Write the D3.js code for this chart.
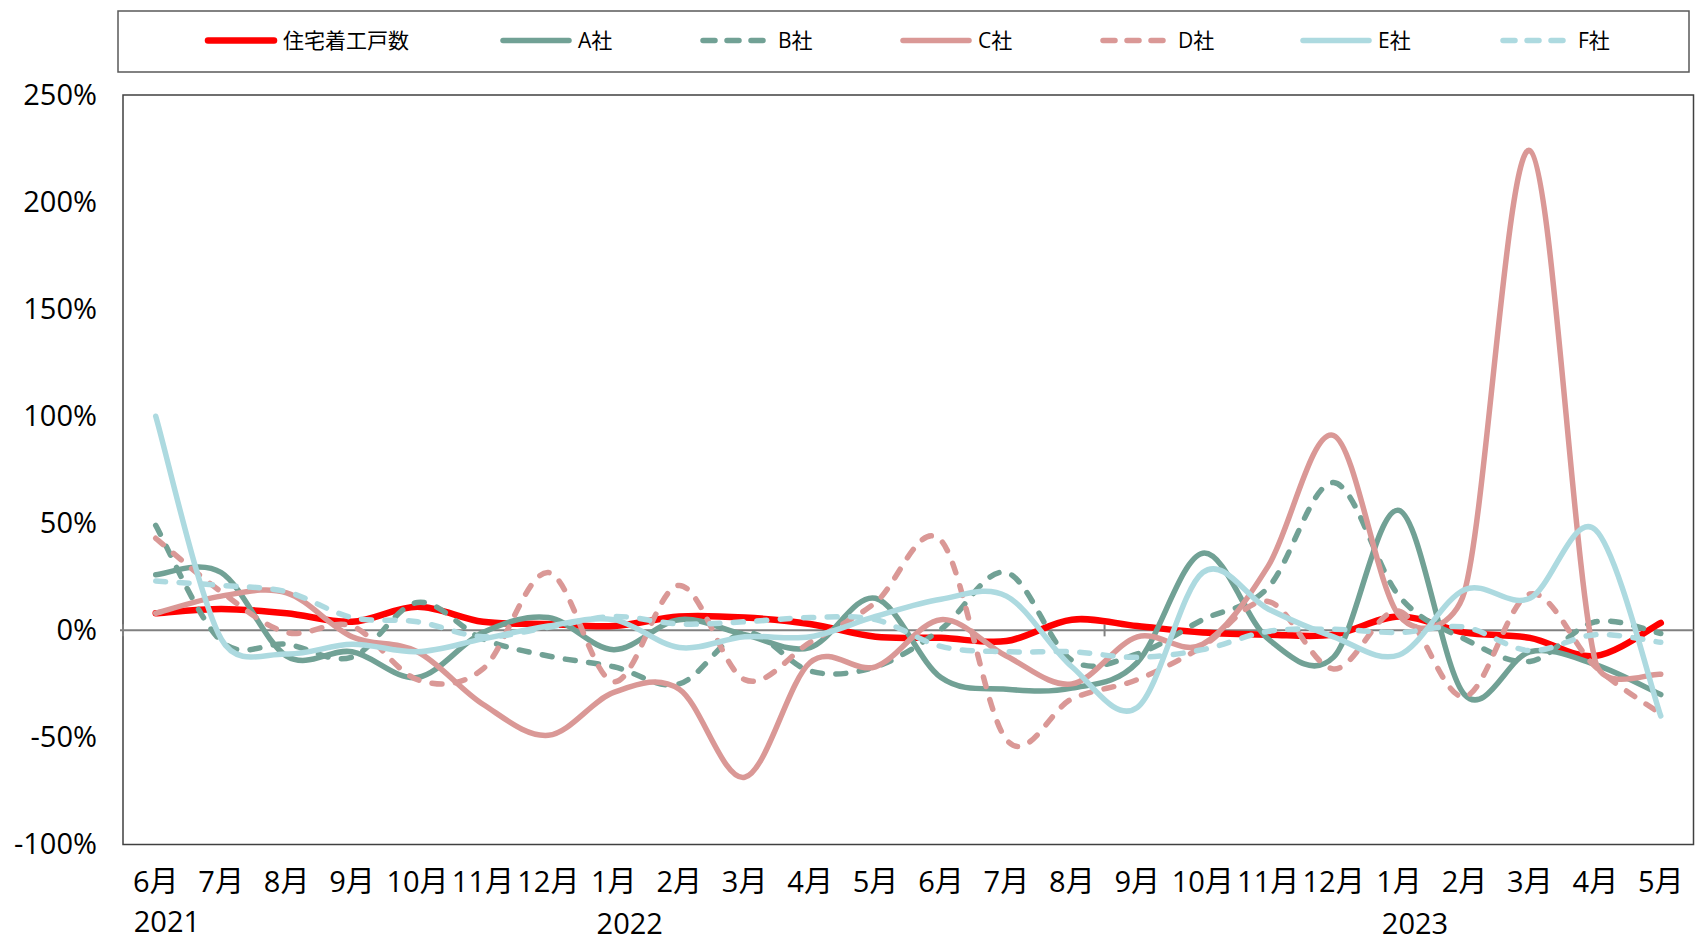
<!DOCTYPE html>
<html><head><meta charset="utf-8">
<script src="https://cdn.jsdelivr.net/npm/d3@7"></script>
<style>
html,body{margin:0;padding:0;background:#fff;}
svg{display:block;}
text{font-family:"Open Sans","Noto Sans CJK JP",sans-serif;fill:#000;}
</style></head>
<body>
<svg id="chart" width="1695" height="942"></svg>
<script>
// ---- data ----
const months = ["6月","7月","8月","9月","10月","11月","12月","1月","2月","3月","4月","5月",
                "6月","7月","8月","9月","10月","11月","12月","1月","2月","3月","4月","5月"];
const years = [{label:"2021", index:0}, {label:"2022", index:7}, {label:"2023", index:19}];
const yTicks = [-100,-50,0,50,100,150,200,250];
const seriesNames = ["住宅着工戸数","A社","B社","C社","D社","E社","F社"];
const housing = [8,10,8,4,11,4,3,2,6.5,6,3,-3,-3.5,-5,5,2,-1,-2,-2,6.5,-1,-3.5,-12,3.5];
const seriesA = [26,27,-12,-10,-22,-1,6,-9,5,-2,-8,15,-22,-27.5,-27,-15,36,-4,-12.5,56,-30,-10,-16,-30];
const seriesB = [49,-5,-6.5,-12.5,13,-4,-12,-17,-25,-1,-19,-17,0.5,27,-14,-11,5,20,69,16,-4,-14.5,4,-1.5];
const seriesC = [8,16,17.5,-3,-10,-34.5,-49,-29,-27.5,-68.6,-15,-17,5,-12,-25,-3,-6.5,30,91,7,18,224,-14.5,-20.5];
const seriesD = [43,18,-1,2,-23,-18,27,-24,21,-23,-5.6,13,42,-51,-32,-23,-7.5,13.5,-18,9,-31,17,-17,-39];
const seriesE = [100,-4,-11,-6.5,-10,-4,2,5,-8,-3,-3,6.5,14.5,16,-17,-36,27,10,-3,-11.5,19,15,47,-40];
const seriesF = [23,21,18,6,4,-3,1.4,6.5,3,4,6,5,-7.5,-10,-10,-12.6,-9,-0.5,0.5,-1,1.5,-9.5,-2,-5.6];
const seriesValues = [housing, seriesA, seriesB, seriesC, seriesD, seriesE, seriesF];

// ---- styles ----
const styles = [
  {color:"#FF0000", width:6.5, dash:null},
  {color:"#71A195", width:5.5, dash:null},
  {color:"#71A195", width:5.5, dash:"10,13.5"},
  {color:"#DA9896", width:5.5, dash:null},
  {color:"#DA9896", width:5.5, dash:"10,13.5"},
  {color:"#ADDAE0", width:5.5, dash:null},
  {color:"#ADDAE0", width:5.5, dash:"10,13.5"}
];

const svg = d3.select("#chart");
const plot = {left:123, right:1693.5, top:95, bottom:844.5};

const x = d3.scaleBand().domain(d3.range(months.length)).range([plot.left, plot.right]);
const cx = i => x(i) + x.bandwidth()/2;
const y = d3.scaleLinear().domain([-100,250]).range([plot.bottom, plot.top]);

// Excel-like smoothed line: cubic Bezier, handle = 1/6 of neighbour chord, capped at half segment length
function smoothPath(pts){
  const p = d3.path();
  const n = pts.length;
  const tan = i => {
    const a = pts[Math.max(0,i-1)], b = pts[Math.min(n-1,i+1)];
    return [b[0]-a[0], b[1]-a[1]];
  };
  p.moveTo(pts[0][0], pts[0][1]);
  for(let i=0;i<n-1;i++){
    const P1 = pts[i], P2 = pts[i+1];
    const seg = Math.hypot(P2[0]-P1[0], P2[1]-P1[1]);
    const t1 = tan(i), t2 = tan(i+1);
    const l1 = Math.hypot(t1[0],t1[1]), l2 = Math.hypot(t2[0],t2[1]);
    let s1 = 1/6, s2 = 1/6;
    if(l1*s1 > seg/2 && l1>0) s1 = seg/2/l1;
    if(l2*s2 > seg/2 && l2>0) s2 = seg/2/l2;
    p.bezierCurveTo(P1[0]+t1[0]*s1, P1[1]+t1[1]*s1, P2[0]-t2[0]*s2, P2[1]-t2[1]*s2, P2[0], P2[1]);
  }
  return p.toString();
}

// background
svg.append("rect").attr("width",1695).attr("height",942).attr("fill","#fff");

// legend box
svg.append("rect").attr("x",118).attr("y",11).attr("width",1571).attr("height",61)
  .attr("fill","#fff").attr("stroke","#595959").attr("stroke-width",1.5);

const legendX = [205, 500, 700, 900, 1100, 1300, 1500];
seriesNames.forEach((name,i)=>{
  const g = svg.append("g");
  const s = styles[i];
  g.append("line").attr("x1",legendX[i]+3).attr("x2",legendX[i]+69).attr("y1",40.5).attr("y2",40.5)
    .attr("stroke",s.color).attr("stroke-width",s.width)
    .attr("stroke-linecap","round")
    .attr("stroke-dasharray", s.dash ? "12,12" : null);
  g.append("text").attr("x",legendX[i]+78).attr("y",40).attr("dominant-baseline","central")
    .attr("font-size",21).text(name);
});

// plot frame
svg.append("rect").attr("x",plot.left).attr("y",plot.top)
  .attr("width",plot.right-plot.left).attr("height",plot.bottom-plot.top)
  .attr("fill","none").attr("stroke","#404040").attr("stroke-width",1.5);

// y axis labels
const yAxis = d3.axisLeft(y).tickValues(yTicks).tickFormat(d=>d+"%").tickSize(0).tickPadding(0);
const yg = svg.append("g").attr("transform",`translate(97,0)`).call(yAxis);
yg.select(".domain").remove();
yg.selectAll("text").attr("font-size",29).attr("font-family",null).attr("fill","#000").attr("dy","0.32em");

// zero axis line
svg.append("line").attr("x1",plot.left-3).attr("x2",plot.right).attr("y1",y(0)).attr("y2",y(0))
  .attr("stroke","#808080").attr("stroke-width",2);
// tick marks (interval 15)
[0,15].forEach(k=>{
  const xx = plot.left + k*x.step();
  svg.append("line").attr("x1",xx).attr("x2",xx).attr("y1",y(0)-6).attr("y2",y(0)+6)
    .attr("stroke","#808080").attr("stroke-width",2);
});

// x axis labels
const xAxis = d3.axisBottom(x).tickFormat(i=>months[i]).tickSize(0).tickPadding(0);
const xg = svg.append("g").attr("transform",`translate(0,870)`).call(xAxis);
xg.select(".domain").remove();
xg.selectAll("text").attr("font-size",29).attr("font-family",null).attr("fill","#000").attr("dy","0.75em");

// year labels
years.forEach((yr,j)=>{
  const t = svg.append("text").attr("font-size",29).text(yr.label);
  if(j===0){
    t.attr("x",cx(yr.index)-22).attr("y",932).attr("text-anchor","start");
  } else {
    t.attr("x",cx(yr.index)+16).attr("y",934).attr("text-anchor","middle");
  }
});

// lines
seriesValues.forEach((vals,i)=>{
  const s = styles[i];
  const pts = vals.map((v,k)=>[cx(k), y(v)]);
  svg.append("path").attr("d",smoothPath(pts))
    .attr("fill","none").attr("stroke",s.color).attr("stroke-width",s.width)
    .attr("stroke-linecap","round").attr("stroke-linejoin","round")
    .attr("stroke-dasharray",s.dash);
});
</script>
</body></html>
